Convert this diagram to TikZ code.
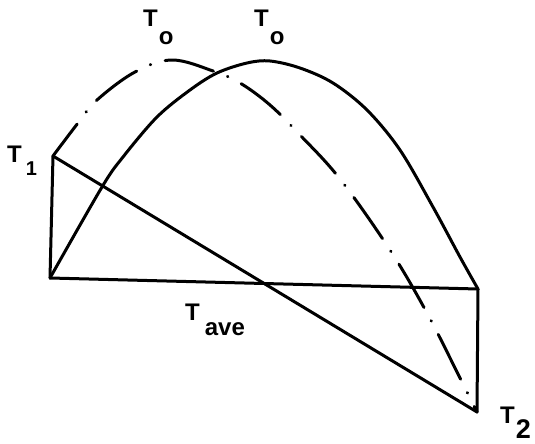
\documentclass[tikz,border=0pt]{standalone}
\usepackage{fontspec}
\setmainfont{Liberation Sans}
\begin{document}
\begin{tikzpicture}[x=1pt,y=-1pt,
  ln/.style={line width=3pt,line cap=round,line join=round},
  dashdot/.style={ln,dash pattern=on 50pt off 15pt on 0.5pt off 15pt,dash phase=10pt},
  lbl/.style={anchor=base west,inner sep=0pt,font=\bfseries\fontsize{24}{30}\selectfont}]
\useasboundingbox (0,0) rectangle (535,444);
\coordinate (A) at (50,278);
\coordinate (T1p) at (53,156);
\coordinate (B) at (478,289);
\coordinate (T2p) at (477,412);
% straight lines
\draw[ln] (A) -- (B);
\draw[ln] (A) -- (T1p);
\draw[ln] (B) -- (T2p);
\draw[ln] (T1p) -- (T2p);
% solid curve
\draw[ln] plot[smooth,tension=0.55] coordinates {(50,278) (102,187) (123,157) (157,117) (190,90) (217,73) (247,63) (270,61) (300,68) (333,83) (367,110) (400,150) (433,207) (460,257) (478,289)};
% dash-dot curve
\draw[dashdot] plot[smooth,tension=0.6] coordinates {(53,156) (78,123) (97,100) (135,72) (172,60) (213,71) (240,83) (270,105) (300,135) (340,179) (390,250) (427,313) (460,378) (477,412)};
% labels
\node[lbl] (lo1) at (143,27) {T\kern1pt\raisebox{-18pt}{o}};
\node[lbl] (lo2) at (254,27) {T\kern1pt\raisebox{-18pt}{o}};
\node[lbl] (l1) at (7,162) {T\kern4pt\raisebox{-13pt}{\fontsize{20}{24}\selectfont 1}};
\node[lbl] (lave) at (185,320) {T\kern5pt\raisebox{-15pt}{ave}};
\node[lbl] (l2) at (500,423) {T\kern1pt\raisebox{-15pt}{\fontsize{27}{32}\selectfont 2}};
\end{tikzpicture}
\end{document}
